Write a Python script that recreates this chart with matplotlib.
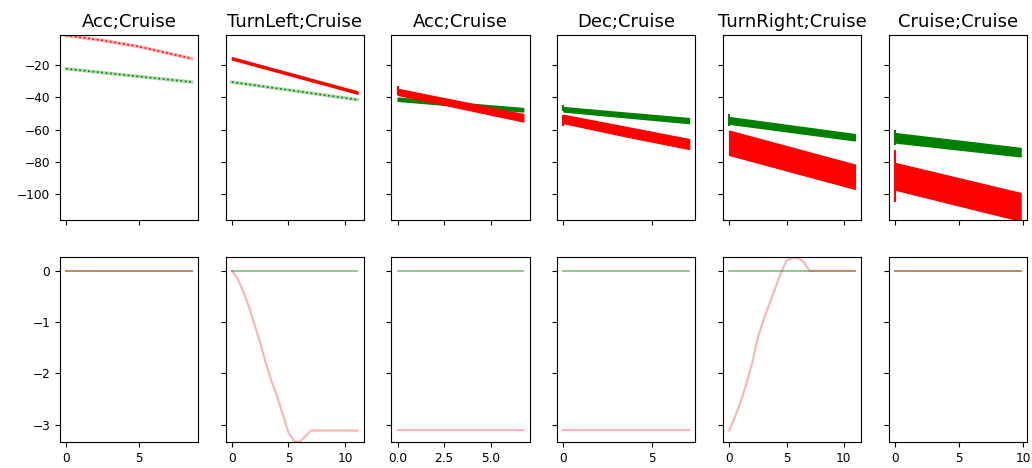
import numpy as np
import matplotlib
matplotlib.use("Agg")
import matplotlib.pyplot as plt

titles = ["Acc;Cruise", "TurnLeft;Cruise", "Acc;Cruise",
          "Dec;Cruise", "TurnRight;Cruise", "Cruise;Cruise"]

# top row: bands (upper / lower edge) per maneuver
top_x = [[0, 2.5, 5, 8.6], [0, 11.1], [0, 6.75], [0, 3.5, 7.07], [0, 10.96], [0, 9.79]]
red_hi = [[-1.5, -4.5, -8.4, -15.8], [-15.2, -36.4], [-34.8, -50.4],
          [-50.9, -58.3, -65.9], [-60.7, -81.7], [-80.7, -99.3]]
red_lo = [[-2.0, -5.0, -8.9, -16.3], [-16.6, -37.8], [-38.5, -55.0],
          [-56.0, -64.2, -72.0], [-75.7, -96.7], [-97.2, -116.5]]
green_hi = [[-22.1, -24.5, -26.9, -30.3], [-30.3, -41.2], [-40.2, -46.7],
            [-46.1, -49.5, -52.9], [-52.3, -62.8], [-62.2, -71.4]]
green_lo = [[-22.6, -25.0, -27.4, -30.8], [-30.9, -41.8], [-42.2, -48.8],
            [-48.8, -52.4, -56.0], [-56.4, -66.7], [-68.0, -76.6]]
# first-sample spikes (top, bottom); nan = none
red_spike = [(np.nan, np.nan), (np.nan, np.nan), (-33.0, -38.5),
             (-50.9, -58.1), (np.nan, np.nan), (-72.5, -105.0)]
green_spike = [(np.nan, np.nan), (np.nan, np.nan), (np.nan, np.nan),
               (-45.0, -48.8), (-50.4, -57.5), (-60.1, -69.4)]

# bottom row: heading-like signals
bot_green_x = [[0, 8.6], [0, 11.1], [0, 6.75], [0, 7.07], [0, 10.96], [0, 9.79]]
bot_green = [[0, 0], [0, 0], [0, 0], [0, 0], [0, 0], [0, 0]]
bot_red_x = [
    [0, 8.6],
    [0, 0.5, 1, 1.5, 2, 2.5, 3, 3.5, 4, 4.5, 5, 5.5, 6, 6.5, 7, 11.1],
    [0, 6.75],
    [0, 7.07],
    [0, 0.5, 1, 1.5, 2, 2.5, 3, 3.5, 4, 4.5, 5, 5.5, 6, 6.5, 7, 10.96],
    [0, 9.79],
]
bot_red = [
    [0, 0],
    [0, -0.15, -0.4, -0.7, -1.05, -1.4, -1.8, -2.15, -2.45, -2.8, -3.15,
     -3.32, -3.33, -3.22, -3.11, -3.11],
    [-3.11, -3.11],
    [-3.11, -3.11],
    [-3.11, -2.85, -2.55, -2.2, -1.8, -1.3, -0.95, -0.65, -0.35, -0.05, 0.2,
     0.25, 0.25, 0.17, 0.0, 0.0],
    [0, 0],
]

fig, axes = plt.subplots(2, 6, figsize=(10.32, 4.68), dpi=100,
                         sharex="col", sharey="row")
fig.subplots_adjust(left=0.058, right=0.995, top=0.925, bottom=0.056,
                    wspace=0.2, hspace=0.2)

for i in range(6):
    ax = axes[0, i]
    x = np.array(top_x[i])
    if i < 2:
        # thin traces: faint line with darker dotted overlay
        gc = (np.array(green_hi[i]) + np.array(green_lo[i])) / 2
        rc = (np.array(red_hi[i]) + np.array(red_lo[i])) / 2
        ax.plot(x, gc, color="green", lw=2.5, alpha=0.3)
        ax.plot(x, gc, color="green", lw=1.2, ls=":")
        if i == 0:
            ax.plot(x, rc, color="red", lw=2.5, alpha=0.3)
            ax.plot(x, rc, color="red", lw=1.2, ls=":")
        else:
            ax.fill_between(x, red_lo[i], red_hi[i], color="red", lw=1)
    else:
        ax.fill_between(x, green_lo[i], green_hi[i], color="green", lw=1)
        ax.fill_between(x, red_lo[i], red_hi[i], color="red", lw=1)
        ax.vlines(x[0], green_spike[i][1], green_spike[i][0], color="green", lw=1.5)
        ax.vlines(x[0], red_spike[i][1], red_spike[i][0], color="red", lw=1.5)
    ax.set_title(titles[i], fontsize=13)

    ax = axes[1, i]
    ax.plot(bot_green_x[i], bot_green[i], color="green", lw=1.2, alpha=0.5)
    ax.plot(bot_red_x[i], bot_red[i], color="red", lw=1.5, alpha=0.3)

axes[0, 0].set_ylim(-116, -1.5)
axes[0, 0].set_yticks([-20, -40, -60, -80, -100])
axes[1, 0].set_ylim(-3.33, 0.27)
axes[1, 0].set_yticks([0, -1, -2, -3])

for ax in axes.flat:
    ax.tick_params(labelsize=8.7)

plt.savefig("out.png", dpi=100)
